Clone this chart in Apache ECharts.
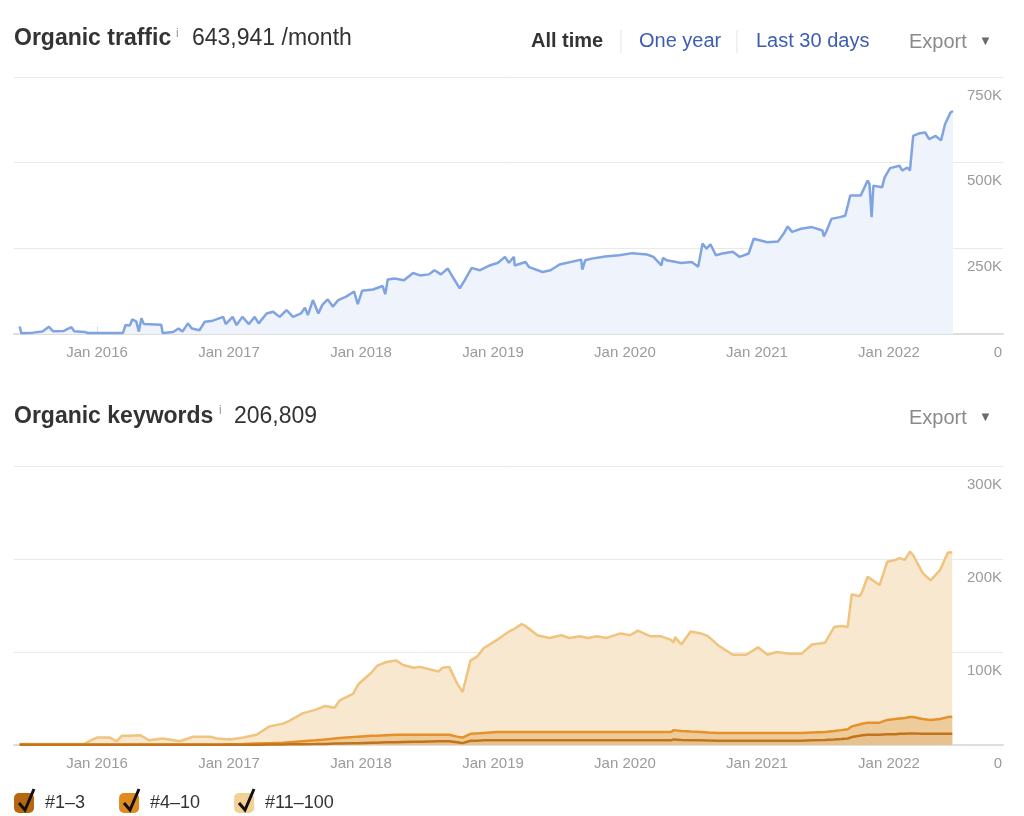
<!DOCTYPE html>
<html>
<head>
<meta charset="utf-8">
<script src="https://cdn.jsdelivr.net/npm/echarts@6/dist/echarts.min.js"></script>
<style>
html,body{margin:0;padding:0;background:#fff;}
#c{width:1024px;height:816px;}
</style>
</head>
<body>
<div id="c"></div>
<script>
// ---------- DATA ----------
const xTickYears = [2016, 2017, 2018, 2019, 2020, 2021, 2022];

// Organic traffic (thousands of visits / month)
const trafficDates = [
'2015-06-01','2015-06-06','2015-07-08','2015-08-03','2015-08-21','2015-09-02','2015-10-01','2015-10-22','2015-10-30','2015-11-28',
'2015-12-06','2016-03-13','2016-03-20','2016-04-01','2016-04-08','2016-04-19','2016-04-26','2016-05-03','2016-05-10','2016-06-27',
'2016-07-01','2016-07-30','2016-08-14','2016-08-25','2016-09-09','2016-09-20','2016-10-11','2016-10-26','2016-11-17','2016-12-16',
'2016-12-23','2017-01-11','2017-01-22','2017-02-07','2017-02-25','2017-03-13','2017-03-24','2017-04-15','2017-05-03','2017-05-21',
'2017-06-09','2017-06-27','2017-07-19','2017-07-30','2017-08-07','2017-08-21','2017-09-05','2017-09-16','2017-10-01','2017-10-15',
'2017-10-30','2017-11-21','2017-12-13','2017-12-23','2018-01-04','2018-02-03','2018-03-02','2018-03-09','2018-03-16','2018-04-04',
'2018-04-30','2018-05-25','2018-06-13','2018-07-08','2018-07-23','2018-08-10','2018-08-29','2018-09-16','2018-10-01','2018-10-15',
'2018-11-03','2018-11-25','2018-12-23','2019-01-15','2019-02-03','2019-02-14','2019-02-28','2019-03-02','2019-04-01','2019-04-11',
'2019-05-18','2019-06-09','2019-07-04','2019-09-02','2019-09-05','2019-09-13','2019-10-01','2019-11-07','2019-12-16','2020-01-22',
'2020-03-02','2020-03-20','2020-04-11','2020-04-15','2020-04-26','2020-06-05','2020-07-04','2020-07-22','2020-08-03','2020-08-14',
'2020-08-25','2020-09-09','2020-09-27','2020-10-26','2020-11-14','2020-12-09','2020-12-23','2021-01-30','2021-02-28','2021-03-16',
'2021-03-27','2021-04-08','2021-05-03','2021-06-02','2021-07-01','2021-07-05','2021-07-12','2021-07-26','2021-08-18','2021-09-02',
'2021-09-16','2021-10-15','2021-11-03','2021-11-08','2021-11-14','2021-11-19','2021-12-13','2021-12-20','2022-01-04','2022-01-30',
'2022-02-07','2022-02-21','2022-02-28','2022-03-09','2022-03-24','2022-04-11','2022-04-22','2022-05-10','2022-05-25','2022-06-05',
'2022-06-20','2022-06-27'
];
const trafficK = [
22,2,4,7,21,8,9,20,8,6,
3,3,26,25,43,36,7,46,29,27,
3,6,16,7,31,16,11,36,39,50,
29,50,26,50,29,50,31,60,65,50,
70,50,60,77,55,99,60,85,101,80,
99,109,124,87,126,130,140,116,159,162,
157,178,171,174,186,174,191,159,133,157,
193,186,200,208,225,208,225,200,210,195,
181,186,203,217,188,215,220,226,230,236,
232,225,200,222,215,207,210,196,264,249,
262,230,235,240,225,235,278,268,270,293,
314,298,307,312,302,285,300,336,341,345,
404,404,448,438,341,433,428,457,484,491,
477,486,477,578,585,588,569,578,565,612,
646,651
];

// Organic keywords by position group (thousands of keywords)
const kwDates = [
'2015-06-01','2015-11-25','2015-12-15','2016-01-01','2016-02-06','2016-02-24','2016-03-10','2016-04-01','2016-04-30','2016-05-25',
'2016-07-01','2016-08-18','2016-09-24','2016-11-10','2016-11-28','2017-01-04','2017-02-10','2017-03-18','2017-04-23','2017-05-30',
'2017-06-17','2017-07-23','2017-08-29','2017-09-24','2017-10-20','2017-11-03','2017-12-10','2017-12-24','2018-01-30','2018-02-14',
'2018-03-10','2018-04-08','2018-04-27','2018-05-27','2018-06-13','2018-08-03','2018-08-14','2018-09-02','2018-09-24','2018-10-09',
'2018-10-31','2018-11-18','2018-12-06','2019-01-12','2019-02-14','2019-02-25','2019-03-21','2019-04-01','2019-05-04','2019-06-06',
'2019-07-09','2019-07-31','2019-08-29','2019-09-20','2019-10-16','2019-11-10','2019-12-20','2020-01-15','2020-02-06','2020-03-10',
'2020-04-08','2020-05-08','2020-05-15','2020-05-19','2020-06-05','2020-07-01','2020-07-30','2020-08-18','2020-09-16','2020-10-26',
'2020-12-02','2021-01-04','2021-01-30','2021-02-24','2021-04-01','2021-05-04','2021-06-02','2021-07-08','2021-08-03','2021-08-22',
'2021-09-09','2021-09-20','2021-10-12','2021-10-19','2021-11-03','2021-12-06','2021-12-27','2022-01-19','2022-01-30','2022-02-14',
'2022-02-28','2022-03-09','2022-04-04','2022-04-26','2022-05-22','2022-06-13','2022-06-25'
];
const kwPos1to3K = [
0.2,0.2,0.2,0.2,0.2,0.2,0.2,0.2,0.2,0.2,
0.2,0.2,0.2,0.2,0.2,0.3,0.3,0.4,0.5,0.6,
0.7,0.9,1,1.2,1.5,1.6,2,2,2.5,2.5,
3,3,3.2,3.5,3.5,4,4,4,3,2,
4.5,4.5,5,5,5,5,5,5,5,5,
5,5,5,5,5,5,5,5,5,5,
5,5,6,6,5.5,5,5,4.8,4.5,4.5,
4.5,4.5,4.5,4.5,4.5,4.5,5,5.5,6,6.5,
7,8.5,10,10.5,11,11,11.5,11.5,12,12,
12.5,12.5,12,12,12,12,12
];
const kwPos4to10K = [
0.3,0.3,0.3,0.3,0.3,0.3,0.3,0.3,0.3,0.3,
0.3,0.3,0.3,0.3,0.3,0.5,0.7,1.1,1.5,1.9,
2.3,3.1,4,4.8,5.5,5.9,6.5,7,7.5,7.5,
7.5,8,7.8,7.5,7.5,7,7,7,6,6,
7.5,8,8,9,9,9,9,9,9,9,
9,9,9,9,9,9,9,9,9,9,
9,9,10,9.5,9.5,9.5,9,8.7,8.5,8.5,
8.5,8.5,8.5,8.5,8.5,8.5,8.5,8.5,9,9.5,
10,11.5,12,12.5,13,13,15.5,16.5,16.5,17,
17.5,17.5,16,15,16,18,18.5
];
const kwPos11to100K = [
0.5,0.5,4.5,7.5,7.5,3.5,9.5,9.5,10,4.5,
6.5,3.5,8.5,8.5,6.5,5.2,7,9.5,18,20.5,
23,30,33,36,33,40.5,46.5,56,68,75,
78.5,80,75,72,73,68,72,73,57,49,
79,82.5,91,99,108,110,116,114,104,101,
104,101,103,101,103,101,106,104,109,103,
103,99,94,100.5,93,107.5,106,103.5,94,84,
84,92,84,87,85,85,94.5,96,112,112,
110,142,138,142,157,148,170,171,172.5,170,
178,174,157,150,160,177,176.5
];

const seriesNames = ['#1–3', '#4–10', '#11–100'];

// ---------- HELPERS ----------
function toYear(s) {
  const p = s.split('-').map(Number);
  const a = Date.UTC(p[0], 0, 1), b = Date.UTC(p[0] + 1, 0, 1);
  return p[0] + (Date.UTC(p[0], p[1] - 1, p[2]) - a) / (b - a);
}
function pairs(dates, vals) {
  return dates.map((d, i) => [toYear(d), vals[i] * 1000]);
}
function kFmt(v) { return v === 0 ? '0' : (v / 1000) + 'K'; }

// stacked (cumulative) levels built from the three position groups
const kwLevel1 = kwPos1to3K.slice();
const kwLevel2 = kwPos4to10K.map((v, i) => v + kwLevel1[i]);
const kwLevel3 = kwPos11to100K.map((v, i) => v + kwLevel2[i]);

const FONT = "'Liberation Sans', Arial, Helvetica, sans-serif";
const X_MIN = 2015.371, X_MAX = 2022.864;

function xAxisCfg(gi) {
  return {
    type: 'value', gridIndex: gi, min: X_MIN, max: X_MAX,
    axisLine: { show: true, lineStyle: { color: '#dedede', width: 2 } },
    axisTick: { show: true, inside: true, length: 8, customValues: xTickYears, lineStyle: { color: '#e0e0e0', width: 1 } },
    axisLabel: { customValues: xTickYears, formatter: v => 'Jan ' + Math.round(v), color: '#9b9b9b', fontSize: 15, fontFamily: FONT, margin: 11 },
    splitLine: { show: false }
  };
}
function yAxisCfg(gi, max, interval) {
  return {
    type: 'value', gridIndex: gi, position: 'right', min: 0, max: max, interval: interval,
    axisLine: { show: false }, axisTick: { show: false },
    axisLabel: { inside: true, margin: 1, align: 'right', verticalAlign: 'top', padding: [11, 0, 0, 0],
      formatter: kFmt, color: '#9b9b9b', fontSize: 15, fontFamily: FONT },
    splitLine: { show: true, lineStyle: { color: '#e9e9e9', width: 1 } }
  };
}

function txt(x, y, text, size, color, weight, extra) {
  return Object.assign({
    type: 'text', x: x, y: y, silent: true,
    style: { text: text, fill: color, font: (weight || 'normal') + ' ' + size + 'px ' + FONT, verticalAlign: 'middle', align: 'left' }
  }, extra || {});
}
function vline(x, y1, y2) {
  return { type: 'line', silent: true, shape: { x1: x, y1: y1, x2: x, y2: y2 }, style: { stroke: '#e3e3e3', lineWidth: 1 } };
}
function check(bx) {
  return { type: 'polyline', silent: true, z: 100,
    shape: { points: [[bx + 5, 803], [bx + 11, 810], [bx + 20, 789]] },
    style: { stroke: '#111', lineWidth: 3, fill: null, lineJoin: 'miter', lineCap: 'butt' } };
}

const chart = echarts.init(document.getElementById('c'), null, { renderer: 'canvas' });

const option = {
  animation: false,
  backgroundColor: '#ffffff',
  textStyle: { fontFamily: FONT },
  grid: [
    { left: 14, right: 21, top: 77, bottom: 816 - 334 },
    { left: 14, right: 21, top: 466, bottom: 816 - 745 }
  ],
  xAxis: [xAxisCfg(0), xAxisCfg(1)],
  yAxis: [yAxisCfg(0, 750000, 250000), yAxisCfg(1, 300000, 100000)],
  legend: {
    data: seriesNames, left: 14, top: 793, orient: 'horizontal', padding: 0,
    icon: 'roundRect', itemWidth: 20, itemHeight: 20, itemGap: 34,
    itemStyle: { borderWidth: 0 },
    textStyle: { fontSize: 18, color: '#333', fontFamily: FONT, padding: [0, 0, 0, 6] },
    selectedMode: false
  },
  series: [
    {
      name: 'Organic traffic', type: 'line', xAxisIndex: 0, yAxisIndex: 0,
      data: pairs(trafficDates, trafficK), symbol: 'none', smooth: false,
      lineStyle: { color: '#80a4e1', width: 2.5 },
      itemStyle: { color: '#80a4e1' },
      areaStyle: { color: '#eff3fc', opacity: 1 }
    },
    {
      name: seriesNames[2], type: 'line', xAxisIndex: 1, yAxisIndex: 1, z: 3,
      data: pairs(kwDates, kwLevel3), symbol: 'none', smooth: false,
      lineStyle: { color: '#f0c47e', width: 2.5 },
      itemStyle: { color: '#f3d096' },
      areaStyle: { color: '#f9e8d0', opacity: 1 }
    },
    {
      name: seriesNames[1], type: 'line', xAxisIndex: 1, yAxisIndex: 1, z: 4,
      data: pairs(kwDates, kwLevel2), symbol: 'none', smooth: false,
      lineStyle: { color: '#e6902a', width: 2.5 },
      itemStyle: { color: '#e08b1f' },
      areaStyle: { color: '#eecb9a', opacity: 1 }
    },
    {
      name: seriesNames[0], type: 'line', xAxisIndex: 1, yAxisIndex: 1, z: 5,
      data: pairs(kwDates, kwLevel1), symbol: 'none', smooth: false,
      lineStyle: { color: '#c3741a', width: 2.5 },
      itemStyle: { color: '#b5680f' },
      areaStyle: { color: '#e8c28e', opacity: 1 }
    }
  ],
  graphic: [
    txt(14, 39, 'Organic traffic', 23, '#333', 'bold'),
    txt(176, 34, 'i', 12, '#9a9a9a'),
    txt(192, 39, '643,941 /month', 23, '#333'),
    txt(531, 41, 'All time', 20, '#333', 'bold'),
    vline(621, 30, 53),
    txt(639, 41, 'One year', 20, '#3d5db4'),
    vline(737, 30, 53),
    txt(756, 41, 'Last 30 days', 20, '#3d5db4'),
    txt(909, 42, 'Export', 20, '#8a8a8a'),
    txt(979, 41, '▼', 13, '#6a6a6a'),
    txt(14, 417, 'Organic keywords', 23, '#333', 'bold'),
    txt(219, 411, 'i', 12, '#9a9a9a'),
    txt(234, 417, '206,809', 23, '#333'),
    txt(909, 418, 'Export', 20, '#8a8a8a'),
    txt(979, 417, '▼', 13, '#6a6a6a'),
    check(14),
    check(119),
    check(234)
  ]
};
chart.setOption(option);
</script>
</body>
</html>
